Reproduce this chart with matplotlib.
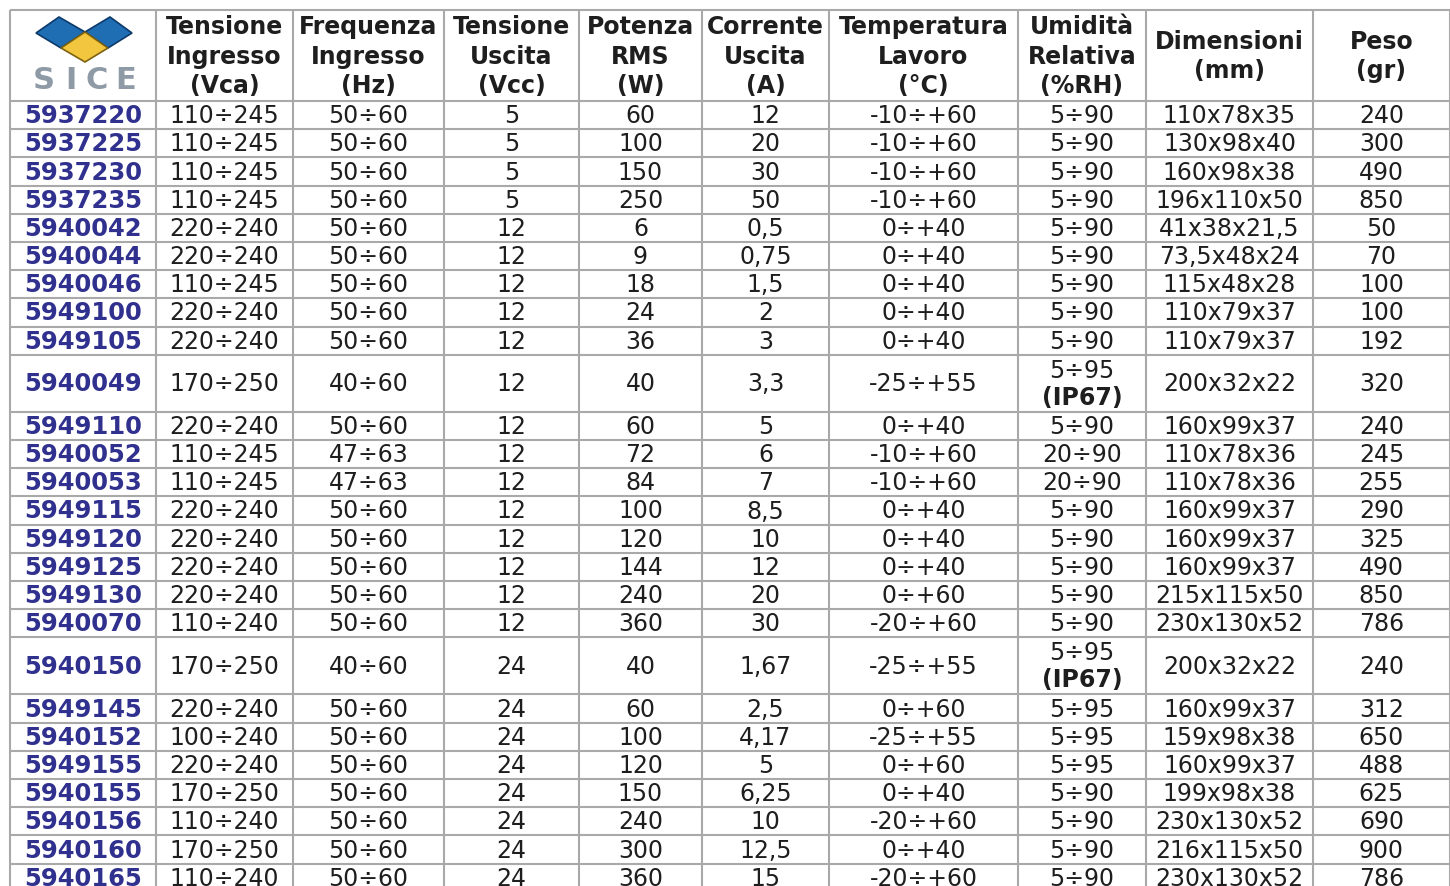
import matplotlib.pyplot as plt
from matplotlib.patches import Polygon

# table content
headers = ["Tensione\nIngresso\n(Vca)", "Frequenza\nIngresso\n(Hz)", "Tensione\nUscita\n(Vcc)",
           "Potenza\nRMS\n(W)", "Corrente\nUscita\n(A)", "Temperatura\nLavoro\n(°C)",
           "Umidità\nRelativa\n(%RH)", "Dimensioni\n(mm)", "Peso\n(gr)"]

codes = ["5937220", "5937225", "5937230", "5937235", "5940042", "5940044", "5940046", "5949100",
         "5949105", "5940049", "5949110", "5940052", "5940053", "5949115", "5949120", "5949125",
         "5949130", "5940070", "5940150", "5949145", "5940152", "5949155", "5940155", "5940156",
         "5940160", "5940165"]
v_in = ["110÷245", "110÷245", "110÷245", "110÷245", "220÷240", "220÷240", "110÷245", "220÷240",
        "220÷240", "170÷250", "220÷240", "110÷245", "110÷245", "220÷240", "220÷240", "220÷240",
        "220÷240", "110÷240", "170÷250", "220÷240", "100÷240", "220÷240", "170÷250", "110÷240",
        "170÷250", "110÷240"]
freq = ["50÷60"] * 9 + ["40÷60", "50÷60", "47÷63", "47÷63"] + ["50÷60"] * 5 + ["40÷60"] + ["50÷60"] * 7
v_out = ["5"] * 4 + ["12"] * 14 + ["24"] * 8
power = ["60", "100", "150", "250", "6", "9", "18", "24", "36", "40", "60", "72", "84", "100", "120",
         "144", "240", "360", "40", "60", "100", "120", "150", "240", "300", "360"]
current = ["12", "20", "30", "50", "0,5", "0,75", "1,5", "2", "3", "3,3", "5", "6", "7", "8,5", "10",
           "12", "20", "30", "1,67", "2,5", "4,17", "5", "6,25", "10", "12,5", "15"]
temp = ["-10÷+60"] * 4 + ["0÷+40"] * 5 + ["-25÷+55", "0÷+40", "-10÷+60", "-10÷+60", "0÷+40",
        "0÷+40", "0÷+40", "0÷+60", "-20÷+60", "-25÷+55", "0÷+60", "-25÷+55", "0÷+60", "0÷+40",
        "-20÷+60", "0÷+40", "-20÷+60"]
humid = ["5÷90"] * 9 + ["5÷95"] + ["5÷90", "20÷90", "20÷90"] + ["5÷90"] * 5 + ["5÷95"] * 4 + ["5÷90"] * 4
ip67 = [False] * 9 + [True] + [False] * 8 + [True] + [False] * 7
dims = ["110x78x35", "130x98x40", "160x98x38", "196x110x50", "41x38x21,5", "73,5x48x24",
        "115x48x28", "110x79x37", "110x79x37", "200x32x22", "160x99x37", "110x78x36",
        "110x78x36", "160x99x37", "160x99x37", "160x99x37", "215x115x50", "230x130x52",
        "200x32x22", "160x99x37", "159x98x38", "160x99x37", "199x98x38", "230x130x52",
        "216x115x50", "230x130x52"]
weight = ["240", "300", "490", "850", "50", "70", "100", "100", "192", "320", "240", "245", "255",
          "290", "325", "490", "850", "786", "240", "312", "650", "488", "625", "690", "900", "786"]

# layout (pixels)
col_w = [146, 137, 151, 135, 123, 127, 189, 128, 167, 137]
head_h = 91
row_h = 28.2
tall_h = 57
x0, y0 = 10, 10
grid_c = "#a9a9a9"
text_c = "#1e1e1e"
code_c = "#30308f"

fig = plt.figure(figsize=(14.5, 8.86), dpi=100)
ax = fig.add_axes([0, 0, 1, 1])
ax.set_xlim(0, 1450)
ax.set_ylim(886, 0)
ax.axis("off")

xs = [x0]
for w in col_w:
    xs.append(xs[-1] + w)
ys = [y0, y0 + head_h]
for t in ip67:
    ys.append(ys[-1] + (tall_h if t else row_h))

for x in xs:
    ax.plot([x, x], [y0, 886], color=grid_c, lw=1.5, solid_capstyle="butt")
for y in ys:
    ax.plot([x0, 1450], [y, y], color=grid_c, lw=1.5, solid_capstyle="butt")

# logo
blue = "#1f6db3"
ax.add_patch(Polygon([(36, 33), (59, 17), (85, 32), (61, 48)], closed=True, fc=blue, ec="#0c3a6b", lw=1.2))
ax.add_patch(Polygon([(85, 32), (110, 17), (132, 33), (108, 48)], closed=True, fc=blue, ec="#0c3a6b", lw=1.2))
ax.add_patch(Polygon([(61, 48), (85, 32), (108, 48), (85, 62)], closed=True, fc="#f3c640", ec="#7d6210", lw=1.2))
for ch, lx in zip("SICE", [44, 71, 97, 126]):
    ax.text(lx, 80, ch, ha="center", va="center", fontsize=22, fontweight="bold",
            color="#8e9aa6")
ax.plot([30, 140], [79.5, 79.5], color="white", lw=1.0)

# header
for i, h in enumerate(headers):
    cx = (xs[i + 1] + xs[i + 2]) / 2
    ax.text(cx, y0 + head_h / 2 + 1, h, ha="center", va="center", fontsize=17, fontweight="bold",
            color=text_c, linespacing=1.27)

# body
cols = [v_in, freq, v_out, power, current, temp, humid, dims, weight]
for r in range(len(codes)):
    cy = (ys[r + 1] + ys[r + 2]) / 2 + 1
    ax.text((xs[0] + xs[1]) / 2, cy, codes[r], ha="center", va="center", fontsize=17.5,
            fontweight="bold", color=code_c)
    for c, col in enumerate(cols):
        cx = (xs[c + 1] + xs[c + 2]) / 2
        if col is humid and ip67[r]:
            ax.text(cx, cy - 13.5, col[r], ha="center", va="center", fontsize=17, color=text_c)
            ax.text(cx, cy + 13.5, "(IP67)", ha="center", va="center", fontsize=17,
                    fontweight="bold", color=text_c)
        else:
            ax.text(cx, cy, col[r], ha="center", va="center", fontsize=17, color=text_c)

fig.savefig("out.png", dpi=100, facecolor="white")
